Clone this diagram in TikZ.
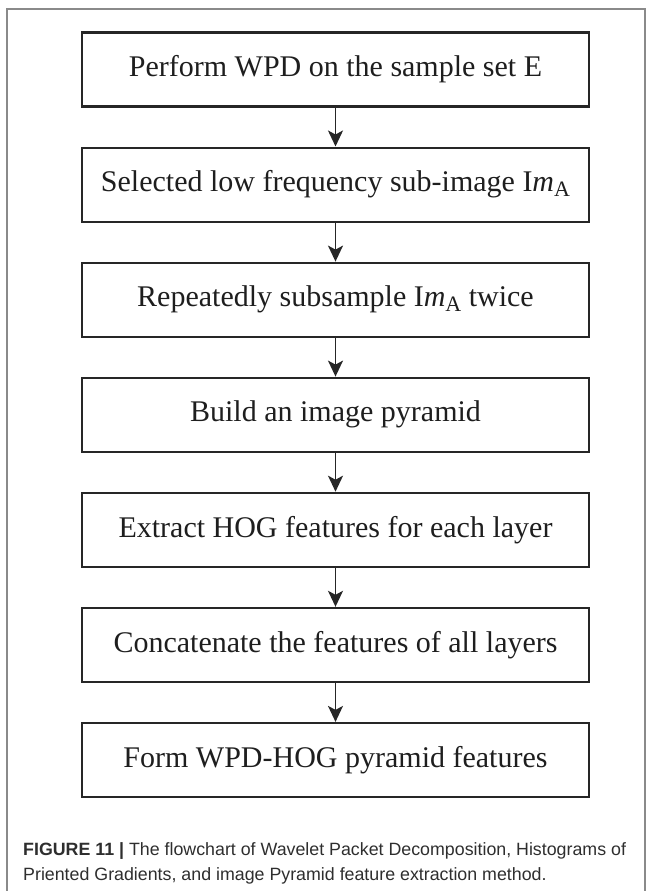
\documentclass[tikz,border=0pt]{standalone}
\usepackage{fontspec}
\setmainfont{Liberation Serif}
\newfontfamily\capfont{Liberation Sans}
\usetikzlibrary{arrows.meta}
\definecolor{boxline}{HTML}{262626}
\definecolor{textcol}{HTML}{1E1E1E}
\definecolor{framecol}{HTML}{8A8A8A}
\definecolor{capcol}{HTML}{2E2E2E}
\newcommand{\ImA}{I\textit{m}\raisebox{-0.3ex}{\fontsize{22}{24}\selectfont A}}
\begin{document}
\begin{tikzpicture}[x=1pt,y=-1pt,
  stepbox/.style={draw=boxline, line width=2.2pt, minimum width=507pt,
    minimum height=74pt, inner sep=0pt, text=textcol,
    font=\fontsize{30}{34}\selectfont},
  flow/.style={draw=boxline, line width=1.7pt,
    -{Stealth[length=16pt,width=15pt,inset=4pt]}},
  captext/.style={anchor=base west, inner sep=0pt, text=capcol,
    font=\capfont\fontsize{17.8}{22}\selectfont}]
\useasboundingbox (0,0) rectangle (652,891);

% page frame
\draw[framecol, line width=1.2pt] (7,891) -- (7,9) -- (645,9) -- (645,891);

% process steps
\node[stepbox] (s1) at (335.5, 69.5) {Perform WPD on the sample set E};
\node[stepbox] (s2) at (335.5, 184.6) {Selected low frequency sub-image \ImA};
\node[stepbox] (s3) at (335.5, 299.7) {Repeatedly subsample \ImA{} twice};
\node[stepbox] (s4) at (335.5, 414.7) {Build an image pyramid};
\node[stepbox] (s5) at (335.5, 529.8) {Extract HOG features for each layer};
\node[stepbox] (s6) at (335.5, 644.9) {Concatenate the features of all layers};
\node[stepbox] (s7) at (335.5, 760.0) {Form WPD-HOG pyramid features};

% connectors
\foreach \a/\b in {s1/s2, s2/s3, s3/s4, s4/s5, s5/s6, s6/s7}
  \draw[flow] (\a.south) -- (\b.north);

% caption
\node[captext] (cap1) at (23, 855) {\textbf{FIGURE 11 |} The flowchart of Wavelet Packet Decomposition, Histograms of};
\node[captext] (cap2) at (23, 880) {Priented Gradients, and image Pyramid feature extraction method.};
\end{tikzpicture}
\end{document}
